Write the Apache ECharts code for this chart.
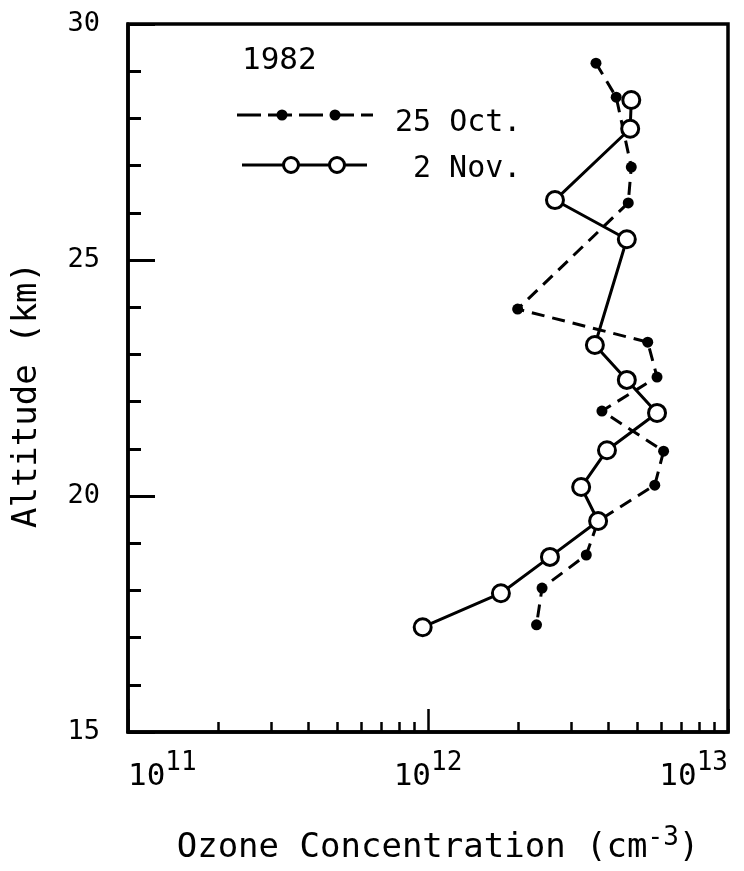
<!DOCTYPE html>
<html>
<head>
<meta charset="utf-8">
<script src="https://cdn.jsdelivr.net/npm/echarts@6/dist/echarts.min.js"></script>
<style>
html,body{margin:0;padding:0;background:#fff;}
#chart{width:744px;height:871px;}
</style>
</head>
<body>
<div id="chart"></div>
<script>
// ---- data ----
const oct25Conc = [3.63e12, 4.24e12, 4.76e12, 4.65e12, 1.99e12, 5.4e12, 5.8e12, 3.8e12, 6.1e12, 5.7e12, 3.69e12, 3.37e12, 2.4e12, 2.3e12];
const oct25Alt  = [29.17, 28.45, 26.97, 26.21, 23.96, 23.26, 22.52, 21.8, 20.95, 20.23, 19.47, 18.75, 18.05, 17.27];
const nov2Conc  = [4.76e12, 4.72e12, 2.65e12, 4.6e12, 3.6e12, 4.6e12, 5.8e12, 3.95e12, 3.24e12, 3.69e12, 2.55e12, 1.75e12, 0.96e12];
const nov2Alt   = [28.39, 27.78, 26.27, 25.44, 23.2, 22.46, 21.76, 20.97, 20.19, 19.47, 18.71, 17.94, 17.22];
const xMajorTicks = [1e11, 1e12, 1e13];
const xMinorTicks = [2e11,3e11,4e11,5e11,6e11,7e11,8e11,9e11,2e12,3e12,4e12,5e12,6e12,7e12,8e12,9e12];
const yMajorTicks = [15, 20, 25, 30];
const yMinorTicks = [16,17,18,19,21,22,23,24,26,27,28,29];
const legendYear = '1982';
const seriesNames = ['25 Oct.', '2 Nov.'];

const FONT = 'DejaVu Sans Mono';
const chart = echarts.init(document.getElementById('chart'), null, {renderer: 'canvas'});

function pairs(xs, ys) { return xs.map((v, i) => [v, ys[i]]); }
function expLabel(v) {
  const e = Math.round(Math.log10(v));
  return '{b|10}{s|' + e + '}';
}

const richX = {
  b: {fontFamily: FONT, fontSize: 31, color: '#000', verticalAlign: 'bottom', lineHeight: 38},
  s: {fontFamily: FONT, fontSize: 26, color: '#000', verticalAlign: 'bottom', lineHeight: 38, padding: [0, 0, 16, 0]}
};

const option = {
  backgroundColor: '#fff',
  animation: false,
  grid: {left: 128, right: 16, top: 24, bottom: 139, show: true, borderColor: '#000', borderWidth: 3.5, backgroundColor: 'transparent'},
  xAxis: [
    {
      type: 'log', logBase: 10, min: 1e11, max: 1e13, position: 'bottom',
      axisLine: {show: true, lineStyle: {color: '#000', width: 3.5}},
      axisTick: {show: true, inside: true, length: 23, lineStyle: {color: '#000', width: 2.5}, customValues: xMajorTicks},
      axisLabel: {show: true, margin: 22, customValues: xMajorTicks, formatter: expLabel, rich: richX, alignMinLabel: 'left', alignMaxLabel: 'right'},
      splitLine: {show: false},
      name: 'Ozone Concentration (cm{s|-3})', nameLocation: 'middle', nameGap: 93,
      nameTextStyle: {fontFamily: FONT, fontSize: 34, color: '#000', padding: [0, 0, 0, 20], rich: {s: {fontFamily: FONT, fontSize: 26, color: '#000', verticalAlign: 'bottom', padding: [0,0,20,0]}}}
    },
    {
      type: 'log', logBase: 10, min: 1e11, max: 1e13, position: 'bottom', gridIndex: 0,
      axisLine: {show: false},
      axisTick: {show: true, inside: true, length: 10, lineStyle: {color: '#000', width: 2.5}, customValues: xMinorTicks},
      axisLabel: {show: false},
      splitLine: {show: false}
    }
  ],
  yAxis: [
    {
      type: 'value', min: 15, max: 30, interval: 5, position: 'left',
      axisLine: {show: true, lineStyle: {color: '#000', width: 3.5}},
      axisTick: {show: true, inside: true, length: 27, lineStyle: {color: '#000', width: 3}, customValues: yMajorTicks},
      axisLabel: {fontFamily: FONT, fontSize: 27, color: '#000', margin: 28},
      splitLine: {show: false},
      name: 'Altitude (km)', nameLocation: 'middle', nameGap: 84,
      nameTextStyle: {fontFamily: FONT, fontSize: 34, color: '#000', padding: [0, 34, 0, 0]}
    },
    {
      type: 'value', min: 15, max: 30, interval: 5, position: 'left', offset: 0,
      axisLine: {show: false},
      axisTick: {show: true, inside: true, length: 13, lineStyle: {color: '#000', width: 3}, customValues: yMinorTicks},
      axisLabel: {show: false},
      splitLine: {show: false}
    }
  ],
  series: [
    {
      name: seriesNames[0], type: 'line', xAxisIndex: 0, yAxisIndex: 0,
      data: pairs(oct25Conc, oct25Alt),
      lineStyle: {color: '#000', width: 3, type: [13, 8]},
      symbol: 'circle', symbolSize: 11,
      itemStyle: {color: '#000', borderColor: '#000', borderWidth: 0},
      z: 2
    },
    {
      name: seriesNames[1], type: 'line', xAxisIndex: 0, yAxisIndex: 0,
      data: pairs(nov2Conc, nov2Alt),
      lineStyle: {color: '#000', width: 3, type: 'solid'},
      symbol: 'circle', symbolSize: 17,
      itemStyle: {color: '#fff', borderColor: '#000', borderWidth: 3},
      z: 3
    }
  ],
  graphic: [
    {type: 'text', left: 242, top: 45, style: {text: legendYear, fontFamily: FONT, fontSize: 31, fill: '#000'}},
    {type: 'line', shape: {x1: 237, y1: 115, x2: 373, y2: 115}, style: {stroke: '#000', lineWidth: 3, lineDash: [24, 7]}},
    {type: 'circle', shape: {cx: 282, cy: 115, r: 5.5}, style: {fill: '#000'}},
    {type: 'circle', shape: {cx: 335, cy: 115, r: 5.5}, style: {fill: '#000'}},
    {type: 'text', left: 395, top: 108, style: {text: seriesNames[0], fontFamily: FONT, fontSize: 30, fill: '#000'}},
    {type: 'line', shape: {x1: 242, y1: 165, x2: 367, y2: 165}, style: {stroke: '#000', lineWidth: 3}},
    {type: 'circle', shape: {cx: 291, cy: 165, r: 7.5}, style: {fill: '#fff', stroke: '#000', lineWidth: 3}, z: 10},
    {type: 'circle', shape: {cx: 337, cy: 165, r: 7.5}, style: {fill: '#fff', stroke: '#000', lineWidth: 3}, z: 10},
    {type: 'text', left: 413, top: 154, style: {text: seriesNames[1], fontFamily: FONT, fontSize: 30, fill: '#000'}}
  ]
};
chart.setOption(option);
</script>
</body>
</html>
